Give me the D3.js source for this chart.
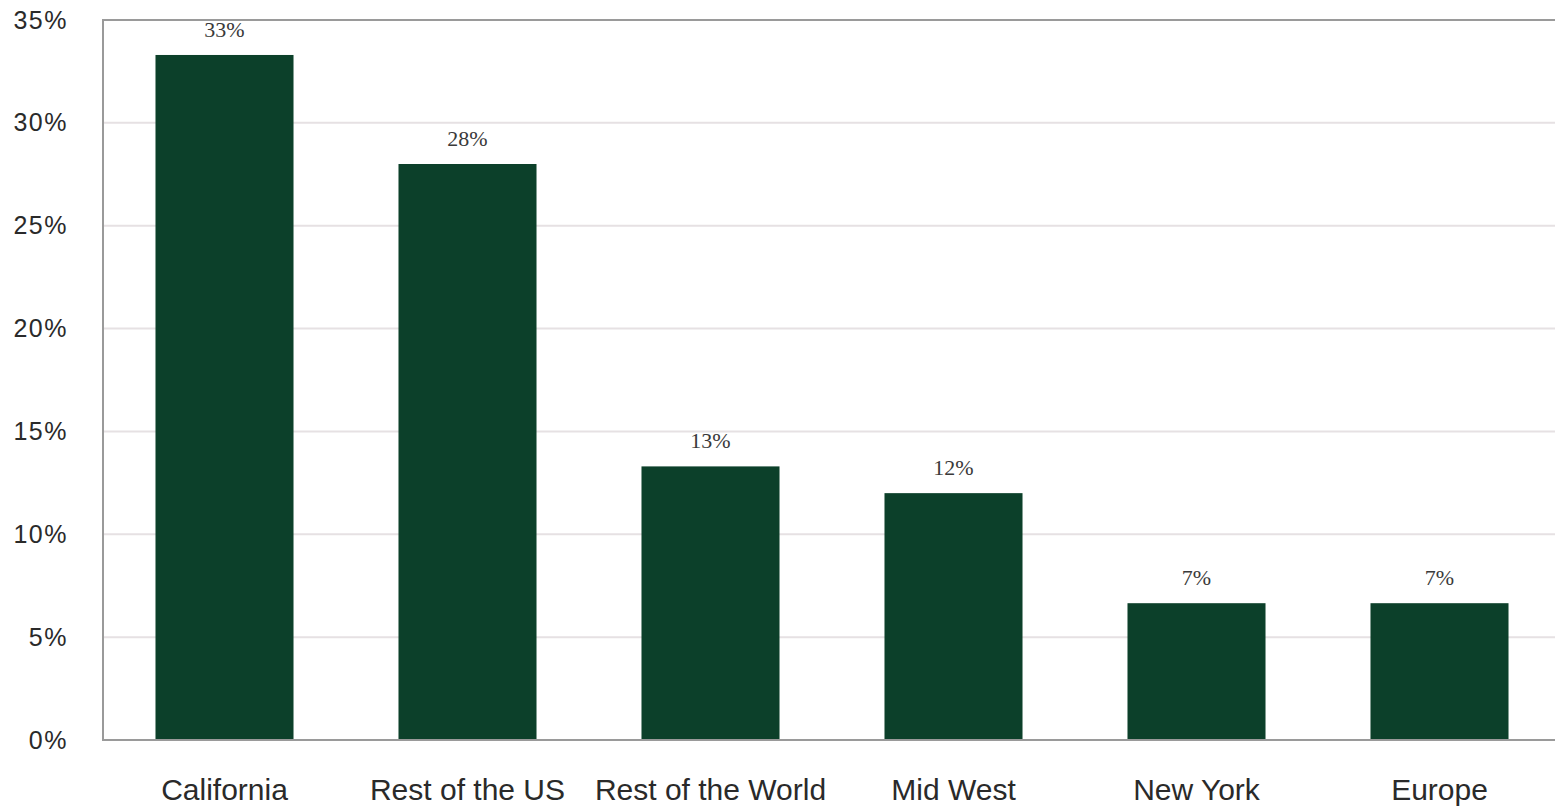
<!DOCTYPE html>
<html>
<head>
<meta charset="utf-8">
<script src="https://cdn.jsdelivr.net/npm/d3@7"></script>
<style>
  body { margin: 0; background: #fff; }
  svg { display: block; }
</style>
</head>
<body>
<svg id="chart" width="1555" height="809"></svg>
<script>
// data
let regions = ["California", "Rest of the US", "Rest of the World", "Mid West", "New York", "Europe"];
let shares = [33.3, 28.0, 13.3, 12.0, 6.65, 6.65];
let shareLabels = ["33%", "28%", "13%", "12%", "7%", "7%"];
let yTicks = [0, 5, 10, 15, 20, 25, 30, 35];

let svg = d3.select("#chart");
let plotLeft = 103, plotRight = 1561, plotTop = 20, plotBottom = 740;

let x = d3.scaleBand()
    .domain(regions)
    .range([plotLeft, plotRight])
    .paddingInner(0.432)
    .paddingOuter(0.216);

let y = d3.scaleLinear()
    .domain([0, 35])
    .range([plotBottom, plotTop]);

// gridlines
svg.append("g")
    .selectAll("line")
    .data(yTicks.filter(d => d > 0 && d < 35))
    .enter()
    .append("line")
    .attr("x1", plotLeft)
    .attr("x2", 1555)
    .attr("y1", d => y(d))
    .attr("y2", d => y(d))
    .attr("stroke", "#e6e1e3")
    .attr("stroke-width", 2);

// bars
svg.append("g")
    .selectAll("rect")
    .data(regions)
    .enter()
    .append("rect")
    .attr("x", d => x(d))
    .attr("y", (d, i) => y(shares[i]))
    .attr("width", x.bandwidth())
    .attr("height", (d, i) => y(0) - y(shares[i]))
    .attr("fill", "#0c402a");

// value labels
svg.append("g")
    .selectAll("text")
    .data(regions)
    .enter()
    .append("text")
    .attr("x", d => x(d) + x.bandwidth() / 2)
    .attr("y", (d, i) => y(shares[i]) - 18)
    .attr("text-anchor", "middle")
    .attr("font-family", "'Liberation Serif', 'DejaVu Serif', serif")
    .attr("font-size", 22)
    .attr("fill", "#3a3a3a")
    .text((d, i) => shareLabels[i]);

// frame lines: left axis, top, bottom
svg.append("path")
    .attr("d", "M1555," + y(35) + "H" + plotLeft + "V" + y(0) + "H1555")
    .attr("fill", "none")
    .attr("stroke", "#9a9a9a")
    .attr("stroke-width", 2);

// y axis labels
let yAxis = d3.axisLeft(y)
    .tickValues(yTicks)
    .tickSize(0)
    .tickPadding(35)
    .tickFormat(d => d + "%");

svg.append("g")
    .attr("transform", "translate(" + plotLeft + ",0)")
    .call(yAxis)
    .call(g => g.select(".domain").remove())
    .selectAll("text")
    .attr("font-family", "'Liberation Sans', Arial, sans-serif")
    .attr("font-size", 25)
    .attr("letter-spacing", 1.5)
    .attr("fill", "#2a2a2a");

// x axis labels
let xAxis = d3.axisBottom(x)
    .tickSize(0)
    .tickPadding(39);

svg.append("g")
    .attr("transform", "translate(0," + plotBottom + ")")
    .call(xAxis)
    .call(g => g.select(".domain").remove())
    .selectAll("text")
    .attr("font-family", "'Liberation Sans', Arial, sans-serif")
    .attr("font-size", 30)
    .attr("fill", "#2a2a2a");
</script>
</body>
</html>
